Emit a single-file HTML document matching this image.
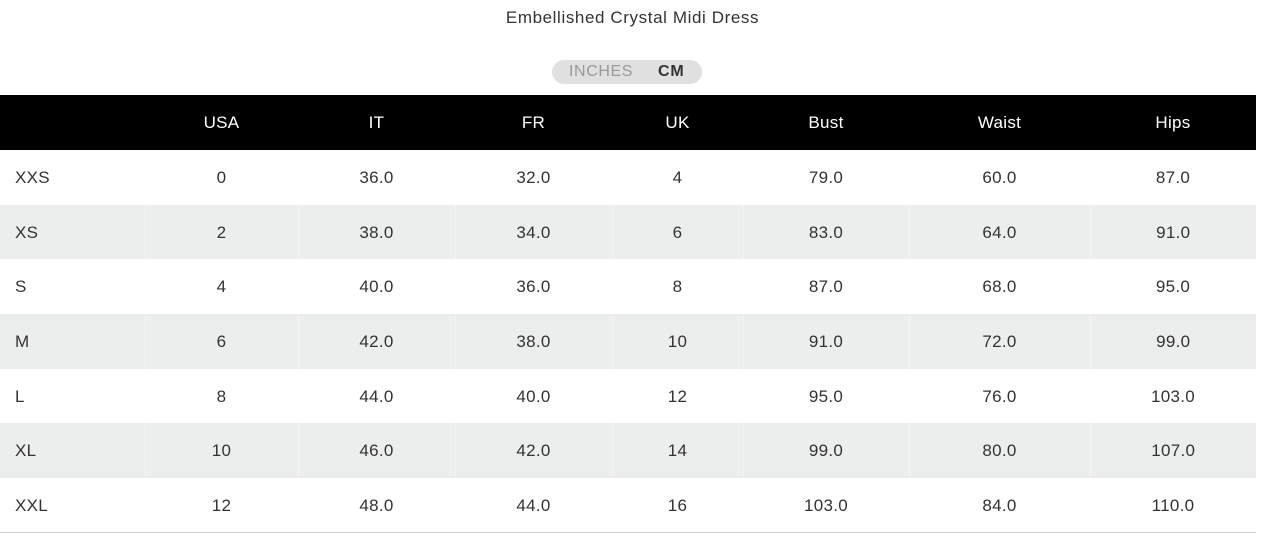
<!DOCTYPE html>
<html><head><meta charset="utf-8"><style>
body{margin:0;width:1263px;height:538px;background:#fff;font-family:"Liberation Sans",sans-serif;color:#222;overflow:hidden;position:relative}
.title{position:absolute;top:8px;left:0;width:1265px;text-align:center;font-size:17px;letter-spacing:0.6px;color:#333}
.pill{position:absolute;left:552px;top:60px;width:150px;height:24px;border-radius:12px;background:#e0e0e0;font-size:16px;line-height:24px}
.pill .a{position:absolute;left:17px;color:#999;letter-spacing:0.6px}
.pill .b{position:absolute;left:106px;color:#333;font-weight:bold;letter-spacing:0.8px}
table{position:absolute;top:95px;left:0;width:1256px;border-collapse:collapse;table-layout:fixed;font-size:17px;letter-spacing:0.3px;line-height:20px}
th{background:#000;color:#fff;font-weight:normal;height:55px;padding:0;text-align:center}
td{height:54.7px;padding:1px 0 0 0;text-align:center;color:#333;box-sizing:border-box}
td:first-child,th:first-child{text-align:left;padding-left:15px}
tr.g td{background:#eceded;border-left:1px solid #f4f4f4}
tr.g td:first-child{border-left:none}
tr:last-child td{border-bottom:1px solid #ccc}
</style></head><body>
<div class="title">Embellished Crystal Midi Dress</div>
<div class="pill"><span class="a">INCHES</span><span class="b">CM</span></div>
<table>
<colgroup><col style="width:145px"><col style="width:153px"><col style="width:157px"><col style="width:157px"><col style="width:131px"><col style="width:166px"><col style="width:181px"><col style="width:166px"></colgroup>
<tr><th></th><th>USA</th><th>IT</th><th>FR</th><th>UK</th><th>Bust</th><th>Waist</th><th>Hips</th></tr>
<tr><td>XXS</td><td>0</td><td>36.0</td><td>32.0</td><td>4</td><td>79.0</td><td>60.0</td><td>87.0</td></tr>
<tr class="g"><td>XS</td><td>2</td><td>38.0</td><td>34.0</td><td>6</td><td>83.0</td><td>64.0</td><td>91.0</td></tr>
<tr><td>S</td><td>4</td><td>40.0</td><td>36.0</td><td>8</td><td>87.0</td><td>68.0</td><td>95.0</td></tr>
<tr class="g"><td>M</td><td>6</td><td>42.0</td><td>38.0</td><td>10</td><td>91.0</td><td>72.0</td><td>99.0</td></tr>
<tr><td>L</td><td>8</td><td>44.0</td><td>40.0</td><td>12</td><td>95.0</td><td>76.0</td><td>103.0</td></tr>
<tr class="g"><td>XL</td><td>10</td><td>46.0</td><td>42.0</td><td>14</td><td>99.0</td><td>80.0</td><td>107.0</td></tr>
<tr><td>XXL</td><td>12</td><td>48.0</td><td>44.0</td><td>16</td><td>103.0</td><td>84.0</td><td>110.0</td></tr>
</table>
</body></html>
